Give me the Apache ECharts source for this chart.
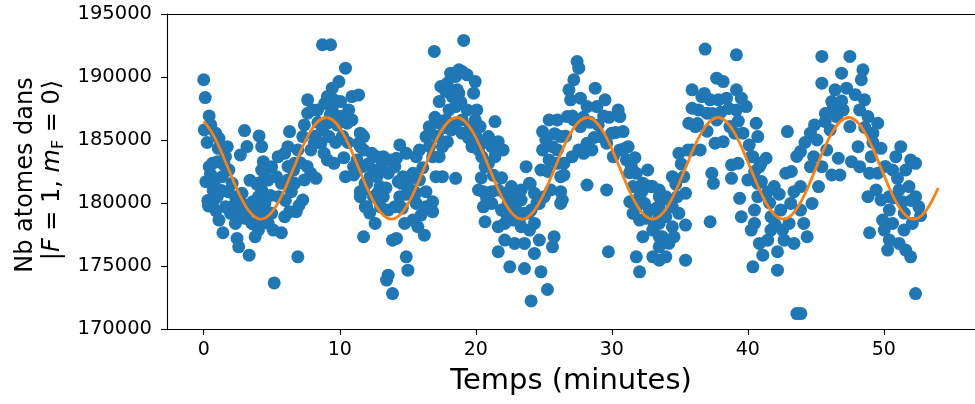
<!DOCTYPE html>
<html>
<head>
<meta charset="utf-8">
<script src="https://cdn.jsdelivr.net/npm/echarts@6/dist/echarts.min.js"></script>
<style>html,body{margin:0;padding:0;background:#fff;}#c{width:975px;height:404px;}</style>
</head>
<body>
<div id="c"></div>
<script>
// Measured atom numbers: time (minutes) and count
const scatterT = [
0.00,0.11,0.40,0.04,0.52,0.88,1.12,1.07,1.73,1.60,0.64,1.00,0.40,0.16,0.76,1.36,1.85,2.09,1.00,0.35,0.76,1.60,1.97,2.33,2.81,2.69,1.12,1.41,2.33,3.05,3.54,2.45,2.57,3.34,3.78,4.02,4.26,4.02,3.78,4.50,4.26,4.26,4.38,4.50,3.00,3.18,2.69,4.07,4.26,
5.18,5.11,5.71,4.74,4.38,4.99,5.95,6.31,6.80,7.28,6.44,6.92,4.02,4.99,4.74,5.35,5.71,6.19,6.68,7.40,7.88,8.25,5.47,5.95,6.19,6.31,6.68,6.92,7.28,7.40,7.64,7.64,8.00,8.37,8.13,7.88,8.61,8.73,8.85,9.09,9.21,9.57,8.73,9.33,10.42,9.94,9.45,9.09,9.57,10.06,10.90,10.66,10.06,10.54,10.90,9.45,9.09,11.63,11.39,11.75,11.27,11.02,10.42,11.02,11.51,11.75,11.99,11.87,
11.39,11.51,11.75,11.51,11.63,11.75,11.99,11.51,11.87,12.60,12.36,12.72,13.20,13.69,14.17,14.41,14.89,12.48,13.08,13.56,14.05,12.72,12.96,12.24,12.48,13.20,13.56,14.05,14.41,14.53,15.01,15.38,15.62,15.86,16.34,16.58,16.83,17.31,17.55,17.19,17.91,17.07,17.55,18.52,16.34,16.83,16.34,16.83,15.62,15.98,15.38,14.77,15.74,16.22,14.17,13.88,14.89,15.01,13.56,13.44,13.88,16.95,18.15,18.52,17.43,17.79,17.31,18.27,18.64,18.76,18.03,17.79,18.52,19.00,17.31,16.70,15.86,14.65,
19.11,18.99,19.36,19.96,19.84,18.75,18.51,19.36,20.08,19.96,20.32,21.41,18.99,19.48,19.72,20.20,20.44,20.93,21.17,21.65,22.01,21.41,20.93,20.68,20.20,20.56,20.80,21.17,21.65,22.13,22.62,22.98,23.34,23.70,23.95,24.31,24.67,25.03,25.51,24.79,24.91,25.15,24.91,25.39,26.00,25.64,25.39,26.00,26.24,26.24,20.56,21.17,20.68,21.89,22.38,22.98,23.34,23.58,24.07,24.31,21.65,22.13,22.74,23.34,23.95,24.67,22.13,22.86,23.58,24.31,21.65,22.50,23.58,24.79,25.64,25.27,24.07,
27.45,27.57,27.21,26.85,26.97,27.69,28.78,29.50,28.18,28.90,30.47,30.59,26.73,27.21,27.69,26.24,26.00,26.48,27.09,27.57,28.18,27.93,28.54,29.14,29.62,29.99,30.83,31.20,30.59,30.11,31.07,31.44,32.64,31.80,32.28,32.89,33.49,31.56,32.04,31.32,31.80,32.40,32.76,31.56,32.04,32.52,33.13,33.49,33.01,32.28,33.49,31.80,32.04,33.01,33.49,28.18,29.62,26.48,26.24,26.36,29.75,25.76,
36.86,39.16,37.71,38.19,35.90,39.16,36.62,37.23,37.83,38.43,39.52,39.88,39.16,35.90,36.38,35.66,36.14,36.99,37.71,38.68,39.04,39.64,40.61,40.73,37.59,38.19,36.50,35.90,34.93,38.80,39.28,40.37,40.85,37.35,37.47,38.80,40.00,34.45,35.29,35.42,34.81,33.97,33.48,33.00,39.40,40.73,33.48,34.45,34.93,33.97,35.42,33.48,34.45,33.72,34.57,33.48,33.97,35.42,37.23,39.52,40.25,40.85,40.37,
45.44,47.50,48.46,48.34,46.89,45.44,46.41,47.26,46.17,48.58,47.01,46.53,48.22,48.83,49.55,45.69,44.60,45.08,46.05,47.50,49.19,48.10,43.87,44.84,45.80,46.65,45.44,44.60,46.17,46.77,47.62,48.22,49.07,49.79,51.24,50.88,52.33,51.97,48.95,49.55,50.64,51.61,51.00,42.91,41.34,40.97,40.25,42.79,41.94,41.46,40.73,43.39,43.87,45.20,44.72,48.83,49.43,49.79,50.40,51.12,51.85,52.33,52.57,51.36,50.40,49.91,50.64,51.48,52.09,50.03,50.40,51.12,51.60,51.97,50.28,48.95,52.33,43.60,43.90,40.49,40.49,41.10,42.18,41.70,42.42,43.15,43.87,44.11,44.36,43.39,42.67,42.18,41.46,41.70,43.03,42.55,
0.25,0.50,0.70,0.30,0.90,1.30,1.80,2.20,2.60,2.90,3.20,3.60,1.50,3.90,4.10,4.60,4.90,3.40,5.50,6.00,6.60,7.10,7.60,7.00,6.20,8.40,8.90,9.30,9.80,10.20,10.60,8.20,9.70,10.30,11.20,12.10,12.80,13.00,12.20,13.40,14.30,14.90,15.30,15.60,14.60,16.10,16.60,17.00,17.70,18.20,18.90,17.90,19.60,20.00,20.60,21.30,21.90,20.40,22.30,22.80,23.20,23.90,24.50,24.00,25.30,25.80,26.60,27.10,27.90,28.40,29.00,29.40,29.80,28.70,30.30,30.90,31.30,31.70,32.20,32.50,33.30,34.10,34.70,35.10,35.60,34.20,36.30,36.80,37.40,38.00,38.60,39.30,37.00,40.10,40.50,41.00,41.60,42.30,42.00,43.20,43.60,44.20,44.90,45.70,46.30,46.90,47.90,48.60,49.20,50.10,50.70,51.50,52.00,52.70
];
const scatterV = [
189780,188370,186910,185800,186200,185540,185140,184340,184470,183680,183150,183280,182880,181690,181560,182090,182620,181560,180500,179760,180240,179700,179180,180500,180770,179440,178645,177640,178380,178780,178380,177190,176525,175860,177320,177850,178645,180500,179700,179970,181030,182620,183280,182090,185750,184475,183810,185320,184475,
173660,177850,177640,178380,179440,179180,178910,179310,179310,180240,180900,175730,181560,182880,181830,182090,181560,181830,181560,181830,182360,181960,183680,183940,184470,185670,183150,184210,185270,186200,187125,188185,187390,187390,184740,184210,184740,185800,183940,183415,185270,183150,192560,192560,190700,189640,189110,188450,188185,188050,188450,187390,186860,186330,186590,187390,186330,185400,184740,184210,183415,182880,182090,182220,180900,177320,179700,181560,
188580,185540,185270,184470,182880,181030,181560,180500,179700,178380,183940,183680,183680,183415,183550,184610,183940,182620,182880,182360,182880,182090,181300,182090,180500,180500,179440,179700,180500,181560,181690,182360,183680,184210,185270,186060,183680,183680,184470,185270,184870,182090,182090,181960,180900,180100,179700,179310,179970,179040,178645,178380,178115,177450,177190,177050,175730,174670,174270,173880,172815,192030,190300,190040,189245,188850,188050,188450,188980,190570,187390,186590,186330,186590,186330,185540,181830,182090,
192900,190440,190170,189640,188715,188715,187655,187390,187390,186590,186065,186460,185540,185140,184470,184210,183680,185270,184470,184870,184210,183680,183150,182880,181030,180900,180370,180900,181030,180770,181300,180900,181030,182880,181560,180770,179970,180500,181030,182620,184210,185000,185670,186590,186590,184470,183415,183150,182090,179970,179700,179970,178510,179440,179970,179440,180240,179180,179440,178380,178115,178380,178645,178115,177850,177060,177060,176790,176790,176000,176130,174935,174800,174540,176525,173135,172230,
191230,190700,189780,188980,188190,188320,189110,188190,187655,187655,187390,186860,186860,186590,186065,185270,184210,183150,183680,184210,184740,183940,184210,185270,184740,185540,185670,184470,184210,183680,183415,182880,182620,182360,181560,181300,180500,181300,180500,180100,179700,179970,179440,179180,178645,178780,178380,178910,177850,177320,177320,175730,174540,175730,175460,181430,181030,182220,180900,180240,176130,177320,
192215,191760,189910,189640,188980,188980,188450,188185,188185,188320,188320,187655,187390,187520,187390,186330,186065,187125,186590,186065,185540,185540,186330,185270,184740,184870,184210,184210,183940,183020,183150,183680,182880,182360,181560,181960,181830,182090,182090,180770,180500,180500,181030,181300,180370,180500,179700,179700,179180,178910,178250,178380,178115,177320,177320,176525,175730,175460,178510,178910,177850,176790,174935,
191630,191630,190570,189780,190300,189510,188980,189110,188050,188185,187390,186860,187390,186860,186330,186460,185540,185000,185800,186065,185540,184470,184080,183680,184210,183550,182880,182880,182220,182220,183280,182880,183680,184340,184470,183680,183150,183415,182360,182360,182620,182620,181960,185670,183550,183150,183680,182360,181300,180900,181560,180900,181300,181300,179970,180500,181030,180240,180500,181030,181300,180500,179700,180100,179440,178645,178380,177850,178380,177850,177060,176790,176260,175730,176260,177640,172815,171225,171225,179440,178380,175860,174670,178910,179440,179970,179440,178380,177320,176790,177050,176130,177050,177850,178380,177850,
184800,182300,181000,180200,179400,181000,180900,179800,178900,179900,179300,180100,183000,181500,179200,178800,180600,181800,180500,180200,182600,183200,182900,179800,182900,186400,187900,187000,186200,185300,184800,185300,184800,183600,182500,183100,180800,179700,179200,181200,181700,180700,181000,180800,179600,182800,184500,186800,186000,185800,188000,189500,186000,185300,184800,182200,182000,182000,179000,180200,178600,179200,180000,181500,182500,185500,185300,186900,186800,186400,186200,186900,186800,185200,185600,184300,182400,183600,180900,181400,179600,180300,181500,183100,184200,176800,186300,188700,187100,187200,187500,186500,185700,184600,182500,181700,180000,180700,178300,182500,183700,184800,186200,187100,187600,188100,188600,186000,184800,182900,180400,179200,180200,179000
];
// Fitted curve
const fitT = [0,0.6,1.2,1.8,2.4,3,3.6,4.2,4.8,5.4,6,6.6,7.2,7.8,8.4,9,9.6,10.2,10.8,11.4,12,12.6,13.2,13.8,14.4,15,15.6,16.2,16.8,17.4,18,18.6,19.2,19.8,20.4,21,21.6,22.2,22.8,23.4,24,24.6,25.2,25.8,26.4,27,27.6,28.2,28.8,29.4,30,30.6,31.2,31.8,32.4,33,33.6,34.2,34.8,35.4,36,36.6,37.2,37.8,38.4,39,39.6,40.2,40.8,41.4,42,42.6,43.2,43.8,44.4,45,45.6,46.2,46.8,47.4,48,48.6,49.2,49.8,50.4,51,51.6,52.2,52.8,53.4,54];
const fitV = [
186478,185603,184294,182750,181206,179897,179022,178715,179022,179897,181206,182750,184294,185603,186478,186785,
186478,185603,184294,182750,181206,179897,179022,178715,179022,179897,181206,182750,184294,185603,186478,186785,
186478,185603,184294,182750,181206,179897,179022,178715,179022,179897,181206,182750,184294,185603,186478,186785,
186478,185603,184294,182750,181206,179897,179022,178715,179022,179897,181206,182750,184294,185603,186478,186785,
186478,185603,184294,182750,181206,179897,179022,178715,179022,179897,181206,182750,184294,185603,186478,186785,
186478,185603,184294,182750,181206,179897,179022,178715,179022,179897,181206];
const xTicks = [0,10,20,30,40,50];
const yTicks = [170000,175000,180000,185000,190000,195000];
const xTitle = 'Temps (minutes)';
const yTitle1 = 'Nb atomes dans';

const FONT = '"DejaVu Sans", sans-serif';
const chart = echarts.init(document.getElementById('c'), null, {renderer:'canvas'});
const scatterData = scatterT.map((t,i)=>[t, scatterV[i]]);
const fitData = fitT.map((t,i)=>[t, fitV[i]]);

chart.setOption({
  animation:false,
  backgroundColor:'#fff',
  grid:{left:167, top:14, right:-12, bottom:75, show:false},
  xAxis:[{
    type:'value', min:-2.7, max:56.7, position:'bottom',
    name:xTitle, nameLocation:'middle', nameGap:38,
    nameTextStyle:{fontFamily:FONT, fontSize:29, color:'#000'},
    axisLine:{show:true, onZero:false, lineStyle:{color:'#000', width:1.1}},
    axisTick:{show:true, inside:false, length:6, customValues:xTicks, lineStyle:{color:'#000', width:1.1}},
    axisLabel:{customValues:xTicks, margin:12, fontFamily:FONT, fontSize:19, color:'#000'},
    splitLine:{show:false}
  },{
    type:'value', min:-2.7, max:56.7, position:'top',
    axisLine:{show:true, onZero:false, lineStyle:{color:'#000', width:1.1}},
    axisTick:{show:false}, axisLabel:{show:false}, splitLine:{show:false}
  }],
  yAxis:{
    type:'value', min:yTicks[0], max:yTicks[yTicks.length-1], interval:5000,
    axisLine:{show:true, onZero:false, lineStyle:{color:'#000', width:1.1}},
    axisTick:{show:true, inside:false, length:6, lineStyle:{color:'#000', width:1.1}},
    axisLabel:{margin:15, fontFamily:FONT, fontSize:19.5, color:'#000', formatter:(v)=>String(Math.round(v))},
    splitLine:{show:false}
  },
  graphic:[
    {type:'text', x:26, y:175, rotation:Math.PI/2,
     style:{text:yTitle1, font:'24px "DejaVu Sans"', fill:'#000', align:'center', verticalAlign:'middle'}},
    {type:'text', x:53, y:170, rotation:Math.PI/2,
     style:{text:'|{i|F} = 1, {i|m}{s|F} = 0⟩', fontFamily:FONT, fontSize:24, fill:'#000', align:'center', verticalAlign:'middle',
       rich:{i:{fontFamily:FONT, fontSize:24, fontStyle:'italic'}, s:{fontFamily:FONT, fontSize:16, padding:[12,0,0,0]}}}}
  ],
  series:[
    {type:'scatter', xAxisIndex:0, data:scatterData, symbolSize:13, itemStyle:{color:'#1f77b4', opacity:1}, z:2},
    {type:'line', xAxisIndex:0, data:fitData, smooth:0.4, showSymbol:false, symbol:'none', lineStyle:{color:'#ff7f0e', width:2.8}, z:3}
  ]
});
</script>
</body>
</html>
